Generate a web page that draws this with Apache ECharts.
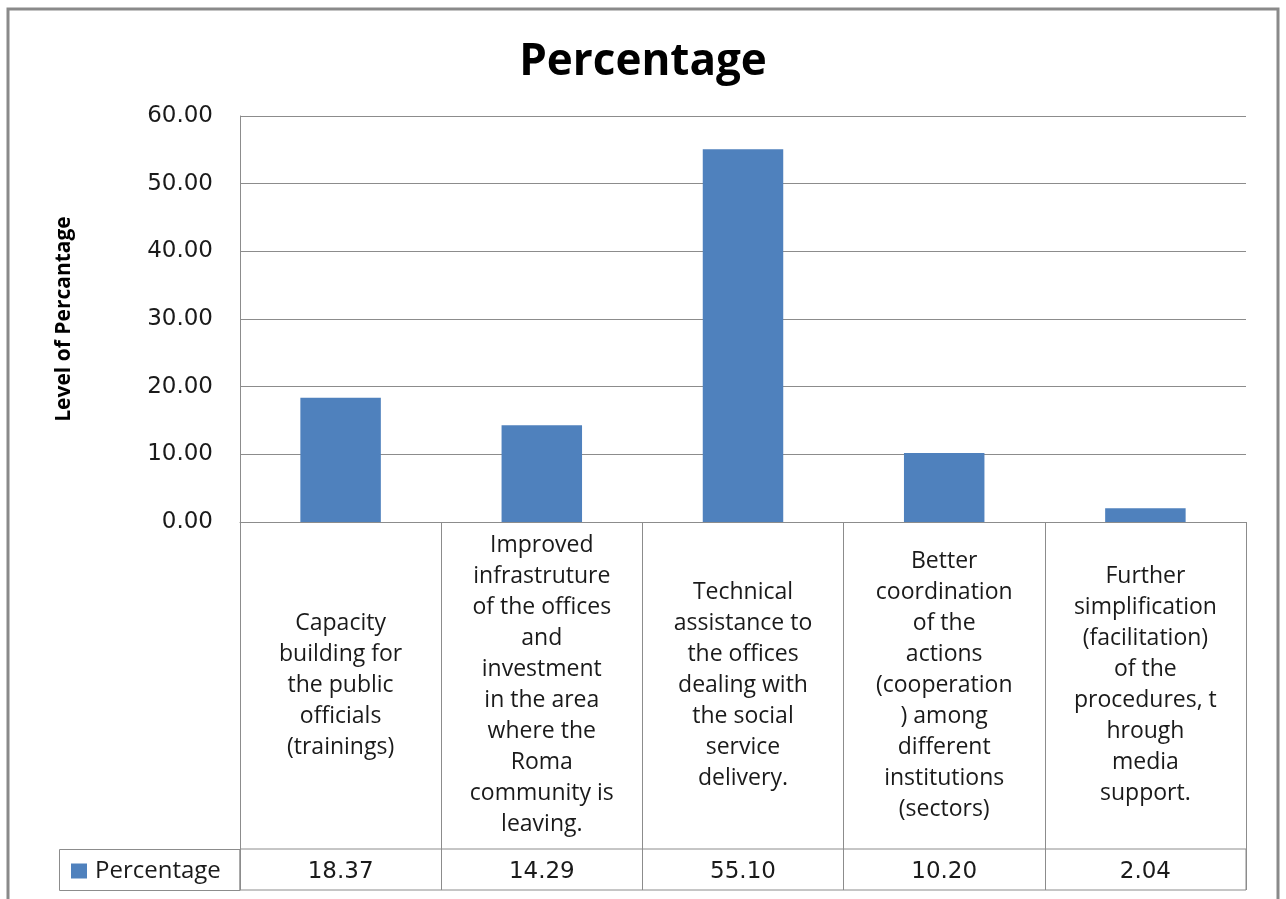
<!DOCTYPE html>
<html>
<head>
<meta charset="utf-8">
<script src="https://cdn.jsdelivr.net/npm/echarts@6/dist/echarts.min.js"></script>
<style>
  html, body { margin: 0; padding: 0; background: #fff; }
  #chart { width: 1286px; height: 899px; }
</style>
</head>
<body>
<div id="chart"></div>
<script>
// Survey categories (wrapped as they appear in the table cells)
const categories = [
  'Capacity\nbuilding for\nthe public\nofficials\n(trainings)',
  'Improved\ninfrastruture\nof the offices\nand\ninvestment\nin the area\nwhere the\nRoma\ncommunity is\nleaving.',
  'Technical\nassistance to\nthe offices\ndealing with\nthe social\nservice\ndelivery.',
  'Better\ncoordination\nof the\nactions\n(cooperation\n) among\ndifferent\ninstitutions\n(sectors)',
  'Further\nsimplification\n(facilitation)\nof the\nprocedures, t\nhrough\nmedia\nsupport.'
];
const seriesName = 'Percentage';
const percentages = [18.37, 14.29, 55.10, 10.20, 2.04];
const yTicks = { min: 0, max: 60, interval: 10 };

const gridColor = '#8c8c8c';
const textColor = '#1a1a1a';
const barColor = '#4f81bd';
const catFont = 'Open Sans';
const numFont = 'DejaVu Sans';

const chart = echarts.init(document.getElementById('chart'), null, { renderer: 'canvas' });

const option = {
  animation: false,
  backgroundColor: '#fff',
  title: {
    text: 'Percentage',
    left: 'center',
    top: 35,
    textStyle: { fontFamily: catFont, fontSize: 44, fontWeight: 'bold', color: '#000' }
  },
  legend: {
    data: [seriesName],
    left: 66,
    top: 854,
    icon: 'rect',
    itemWidth: 16,
    itemHeight: 15,
    itemGap: 8,
    textStyle: { fontFamily: catFont, fontSize: 24, color: textColor, padding: [0, 0, 0, 3] }
  },
  grid: [
    { left: 240, right: 40, top: 116, bottom: 377, containLabel: false },
    { left: 240, right: 40, top: 849, height: 41, show: true, borderColor: gridColor, borderWidth: 1 }
  ],
  xAxis: [
    {
      type: 'category',
      gridIndex: 0,
      data: categories,
      axisLine: { show: true, lineStyle: { color: gridColor, width: 1 } },
      axisTick: { show: true, length: 327, lineStyle: { color: gridColor, width: 1 } },
      axisLabel: {
        interval: 0,
        margin: 163,
        verticalAlign: 'middle',
        lineHeight: 31,
        fontFamily: catFont,
        fontSize: 23,
        color: textColor,
        align: 'center'
      },
      splitLine: { show: false }
    },
    {
      type: 'category',
      gridIndex: 1,
      data: percentages.map(v => v.toFixed(2)),
      axisLine: { show: false },
      axisTick: { show: true, inside: true, length: 41, lineStyle: { color: gridColor, width: 1 } },
      axisLabel: {
        interval: 0,
        margin: -18,
        verticalAlign: 'middle',
        fontFamily: numFont,
        fontSize: 23,
        color: textColor
      },
      splitLine: { show: false }
    }
  ],
  yAxis: [
    {
      type: 'value',
      gridIndex: 0,
      min: yTicks.min,
      max: yTicks.max,
      interval: yTicks.interval,
      name: 'Level of Percantage',
      nameLocation: 'middle',
      nameRotate: 90,
      nameGap: 165,
      nameTextStyle: { fontFamily: catFont, fontSize: 21, fontWeight: 'bold', color: '#000' },
      axisLine: { show: true, lineStyle: { color: gridColor, width: 1 } },
      axisTick: { show: false },
      axisLabel: {
        margin: 27,
        formatter: v => v.toFixed(2),
        fontFamily: numFont,
        fontSize: 23,
        color: textColor
      },
      splitLine: { show: true, lineStyle: { color: gridColor, width: 1 } }
    },
    {
      type: 'value',
      gridIndex: 1,
      show: false
    }
  ],
  series: [
    {
      name: seriesName,
      type: 'bar',
      xAxisIndex: 0,
      yAxisIndex: 0,
      data: percentages,
      barWidth: '40%',
      itemStyle: { color: barColor }
    }
  ],
  graphic: [
    // outer chart frame
    {
      type: 'rect',
      shape: { x: 8, y: 9, width: 1270, height: 905 },
      style: { fill: 'none', stroke: '#8a8a8a', lineWidth: 3 },
      silent: true
    },
    // legend header cell of the data table
    {
      type: 'rect',
      shape: { x: 59.5, y: 849.5, width: 180.5, height: 41 },
      style: { fill: 'none', stroke: gridColor, lineWidth: 1 },
      silent: true
    }
  ]
};

chart.setOption(option);
</script>
</body>
</html>
